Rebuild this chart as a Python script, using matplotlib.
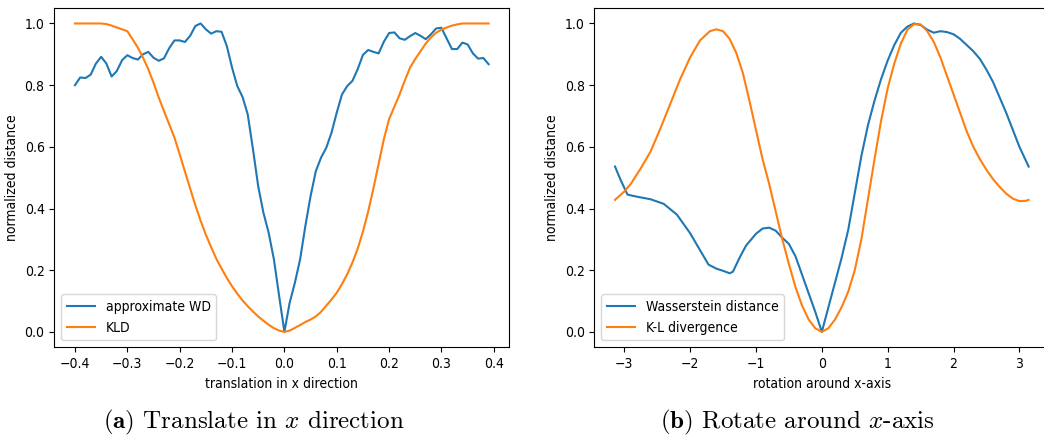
import numpy as np
import matplotlib
matplotlib.use("Agg")
import matplotlib.pyplot as plt

plt.rcParams['mathtext.fontset'] = 'cm'
plt.rcParams['font.stretch'] = 'condensed'

# ---------------------------------------
# (a) translation in x direction
trans_x = np.round(np.arange(-0.40, 0.395, 0.01), 2)

wd_trans = [0.800, 0.825, 0.823, 0.834, 0.870, 0.892, 0.870, 0.828, 0.846, 0.881,
            0.897, 0.888, 0.883, 0.900, 0.908, 0.889, 0.879, 0.887, 0.920, 0.945,
            0.945, 0.940, 0.960, 0.992, 1.000, 0.981, 0.967, 0.975, 0.973, 0.927,
            0.857, 0.797, 0.762, 0.705, 0.592, 0.472, 0.386, 0.321, 0.235, 0.116,
            0.000, 0.094, 0.159, 0.235, 0.343, 0.440, 0.521, 0.565, 0.597, 0.646,
            0.711, 0.770, 0.797, 0.814, 0.852, 0.898, 0.914, 0.908, 0.903, 0.941,
            0.969, 0.971, 0.952, 0.947, 0.959, 0.969, 0.960, 0.949, 0.965, 0.984,
            0.986, 0.951, 0.917, 0.917, 0.938, 0.932, 0.903, 0.886, 0.888, 0.868]

kld_trans = [1.000, 1.000, 1.000, 1.000, 1.000, 1.000, 0.998, 0.993, 0.987, 0.981,
             0.975, 0.949, 0.922, 0.889, 0.852, 0.808, 0.760, 0.716, 0.673, 0.630,
             0.576, 0.520, 0.465, 0.410, 0.360, 0.315, 0.275, 0.237, 0.205, 0.175,
             0.148, 0.124, 0.102, 0.083, 0.066, 0.050, 0.036, 0.023, 0.012, 0.004,
             0.000, 0.004, 0.013, 0.022, 0.032, 0.040, 0.050, 0.065, 0.085, 0.105,
             0.127, 0.155, 0.187, 0.225, 0.270, 0.325, 0.390, 0.465, 0.545, 0.625,
             0.690, 0.730, 0.770, 0.815, 0.857, 0.885, 0.910, 0.935, 0.955, 0.970,
             0.980, 0.987, 0.993, 0.997, 1.000, 1.000, 1.000, 1.000, 1.000, 1.000]

# ---------------------------------------
# (b) rotation around x-axis
rot_x_wd = [-3.14, -3.05, -2.95, -2.8, -2.6, -2.4, -2.2, -2.0, -1.85, -1.72,
            -1.6, -1.5, -1.4, -1.35, -1.25, -1.15, -1.0, -0.9, -0.8, -0.7,
            -0.6, -0.5, -0.4, -0.3, -0.2, -0.1, 0.0, 0.1, 0.2, 0.3,
            0.4, 0.5, 0.6, 0.7, 0.8, 0.9, 1.0, 1.1, 1.2, 1.3,
            1.4, 1.5, 1.6, 1.7, 1.8, 1.9, 2.0, 2.1, 2.2, 2.3,
            2.4, 2.5, 2.6, 2.7, 2.8, 2.9, 3.0, 3.14]
wd_rot = [0.536, 0.490, 0.445, 0.438, 0.430, 0.415, 0.380, 0.320, 0.265, 0.218,
          0.205, 0.198, 0.190, 0.195, 0.240, 0.280, 0.318, 0.335, 0.338, 0.328,
          0.305, 0.285, 0.245, 0.185, 0.125, 0.065, 0.000, 0.080, 0.160, 0.240,
          0.330, 0.450, 0.570, 0.670, 0.750, 0.820, 0.880, 0.930, 0.970, 0.990,
          1.000, 0.995, 0.980, 0.970, 0.975, 0.972, 0.965, 0.950, 0.930, 0.910,
          0.885, 0.850, 0.810, 0.760, 0.710, 0.655, 0.600, 0.536]

rot_x_kl = [-3.14, -3.0, -2.9, -2.75, -2.6, -2.45, -2.3, -2.15, -2.0, -1.85,
            -1.7, -1.6, -1.5, -1.4, -1.3, -1.2, -1.1, -1.0, -0.9, -0.8,
            -0.7, -0.6, -0.5, -0.4, -0.3, -0.2, -0.1, 0.0, 0.1, 0.2,
            0.3, 0.4, 0.5, 0.6, 0.7, 0.8, 0.9, 1.0, 1.1, 1.2,
            1.3, 1.4, 1.5, 1.6, 1.7, 1.8, 1.9, 2.0, 2.1, 2.2,
            2.3, 2.4, 2.5, 2.6, 2.7, 2.8, 2.9, 3.0, 3.1, 3.14]
kl_rot = [0.428, 0.455, 0.480, 0.530, 0.585, 0.660, 0.740, 0.820, 0.890, 0.945,
          0.975, 0.981, 0.975, 0.950, 0.905, 0.840, 0.750, 0.655, 0.560, 0.480,
          0.390, 0.300, 0.220, 0.145, 0.085, 0.040, 0.012, 0.000, 0.012, 0.040,
          0.080, 0.130, 0.200, 0.300, 0.430, 0.560, 0.685, 0.790, 0.870, 0.935,
          0.980, 0.998, 0.997, 0.975, 0.940, 0.890, 0.830, 0.770, 0.710, 0.650,
          0.600, 0.560, 0.525, 0.495, 0.470, 0.448, 0.432, 0.424, 0.425, 0.428]

# ---------------------------------------
fig = plt.figure(figsize=(10.44, 4.4), dpi=100)
ax1 = fig.add_axes([0.052, 0.2107, 0.4358, 0.771])
ax2 = fig.add_axes([0.5693, 0.2107, 0.4358, 0.771])

ax1.plot(trans_x, wd_trans, label="approximate WD")
ax1.plot(trans_x, kld_trans, label="KLD")
ax1.set_xlabel("translation in x direction")
ax1.set_ylabel("normalized distance")
ax1.legend(loc="lower left")

ax2.plot(rot_x_wd, wd_rot, label="Wasserstein distance")
ax2.plot(rot_x_kl, kl_rot, label="K-L divergence")
ax2.set_xlabel("rotation around x-axis")
ax2.set_ylabel("normalized distance")
ax2.legend(loc="lower left")

# sub-captions
fig.text(254 / 1044, 0.027, r"$\mathbf{(a)}$ Translate in $x$ direction",
         family="cmr10", fontsize=18, ha="center", va="baseline")
fig.text(797 / 1044, 0.027, r"$\mathbf{(b)}$ Rotate around $x$-axis",
         family="cmr10", fontsize=18, ha="center", va="baseline")

fig.savefig("out.png", dpi=100)
